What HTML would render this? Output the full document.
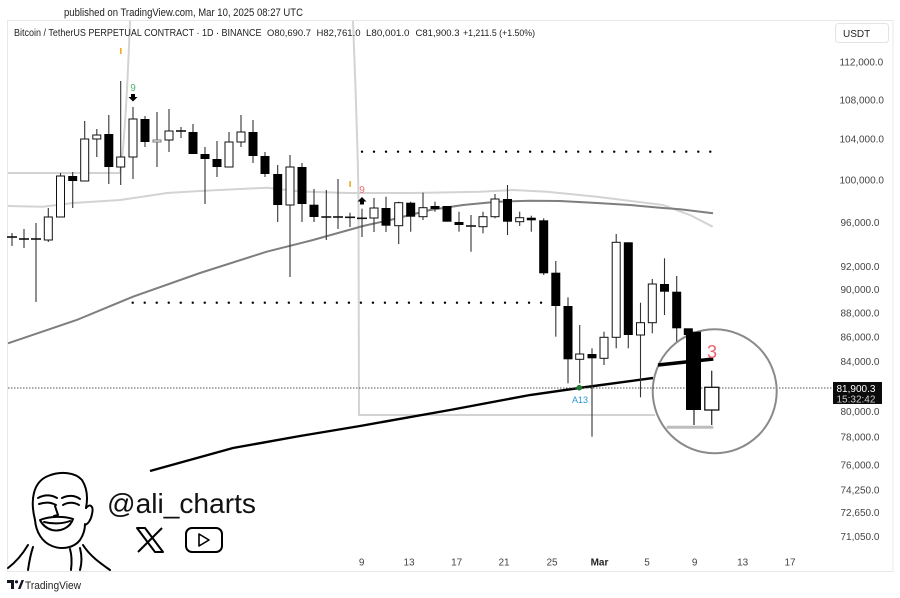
<!DOCTYPE html>
<html><head><meta charset="utf-8"><style>
html,body{margin:0;padding:0;background:#fff;}
svg{display:block;font-family:"Liberation Sans",sans-serif;}
</style></head><body>
<svg width="900" height="598" viewBox="0 0 900 598" xmlns="http://www.w3.org/2000/svg">
<rect width="900" height="598" fill="#fff"/>
<text x="64" y="16" font-size="11" fill="#222" textLength="239" lengthAdjust="spacingAndGlyphs">published on TradingView.com, Mar 10, 2025 08:27 UTC</text>
<rect x="7.5" y="20.5" width="885.5" height="551" fill="none" stroke="#e8e8e8" stroke-width="1"/>

<!-- light gray step line -->
<path d="M8,173 L120,173 C124,150 127,100 130,21" fill="none" stroke="#d3d3d3" stroke-width="2"/>
<path d="M353,21 C356,100 358,150 358.5,200 L359,415 L655,415" fill="none" stroke="#d3d3d3" stroke-width="2"/>
<!-- light gray MA -->
<path d="M8,206 L43,206.7 L73,203 L120,200 L167,193 L200,191 L267,187.7 L300,191.5 L347,193 L413,193 L480,191.7 L513,190 L547,191.7 L597,196.7 L663,205 L690,215 L712.7,226.7" fill="none" stroke="#d3d3d3" stroke-width="2"/>
<!-- dark gray MA -->
<path d="M8,343.3 L76.7,320 L133,296.7 L200,273 L266.7,251.7 L300,243.3 L313,240 L363,226 L390,220 L430,210 L463,205 L497,201.7 L530,200.7 L560,201 L597,203 L630,205 L663,208 L680,209.3 L713,213.3" fill="none" stroke="#7e7e7e" stroke-width="2"/>
<!-- black MA -->
<path d="M150,471 L233,448 L300,436 L360,426 L450,410 L530,395 L579,388 L653,378" fill="none" stroke="#000" stroke-width="2.4"/>

<!-- dotted levels -->
<line x1="362" y1="151.7" x2="714" y2="151.7" stroke="#000" stroke-width="2.4" stroke-linecap="round" stroke-dasharray="0.01 12"/>
<line x1="132.7" y1="302.7" x2="545" y2="302.7" stroke="#000" stroke-width="2.4" stroke-linecap="round" stroke-dasharray="0.01 12"/>
<!-- price line -->
<line x1="8" y1="388" x2="833" y2="388" stroke="#555" stroke-width="1" stroke-dasharray="1.5 1.5"/>

<!-- wicks -->
<g stroke="#333" stroke-width="1.1">
<line x1="12" y1="233" x2="12" y2="246"/><line x1="24" y1="229" x2="24" y2="248"/><line x1="36" y1="223" x2="36" y2="302"/>
<line x1="48.3" y1="208" x2="48.3" y2="242"/><line x1="60.5" y1="173" x2="60.5" y2="217"/><line x1="72.7" y1="172" x2="72.7" y2="208"/>
<line x1="84.7" y1="121" x2="84.7" y2="181"/><line x1="96.8" y1="129" x2="96.8" y2="157"/><line x1="108.8" y1="115" x2="108.8" y2="184"/>
<line x1="120.7" y1="81" x2="120.7" y2="185"/><line x1="133" y1="107" x2="133" y2="179"/><line x1="145" y1="116" x2="145" y2="147"/>
<line x1="157" y1="112" x2="157" y2="167"/><line x1="169" y1="109" x2="169" y2="152"/><line x1="181" y1="127" x2="181" y2="138"/>
<line x1="193" y1="124" x2="193" y2="154"/><line x1="205" y1="147" x2="205" y2="204"/><line x1="217" y1="141" x2="217" y2="177"/>
<line x1="229" y1="132" x2="229" y2="167"/><line x1="241" y1="115" x2="241" y2="147"/><line x1="253" y1="120" x2="253" y2="163"/>
<line x1="265" y1="152" x2="265" y2="177"/><line x1="277.7" y1="165" x2="277.7" y2="222"/><line x1="290" y1="155" x2="290" y2="277"/>
<line x1="302" y1="163" x2="302" y2="222"/><line x1="314" y1="189" x2="314" y2="222"/><line x1="326.3" y1="190" x2="326.3" y2="240"/>
<line x1="338" y1="179" x2="338" y2="229"/><line x1="350" y1="212.7" x2="350" y2="227"/><line x1="362" y1="208.7" x2="362" y2="237"/>
<line x1="374" y1="198" x2="374" y2="232"/><line x1="386" y1="196.7" x2="386" y2="232"/><line x1="398.7" y1="201.7" x2="398.7" y2="244"/>
<line x1="410.7" y1="201.7" x2="410.7" y2="231.7"/><line x1="423" y1="192.7" x2="423" y2="220"/><line x1="435" y1="201.7" x2="435" y2="211.7"/>
<line x1="447" y1="206" x2="447" y2="221.7"/><line x1="459" y1="211.7" x2="459" y2="231.7"/><line x1="471" y1="215" x2="471" y2="251.7"/>
<line x1="483" y1="211.7" x2="483" y2="233.3"/><line x1="495" y1="194" x2="495" y2="218.3"/><line x1="507.5" y1="185" x2="507.5" y2="235"/>
<line x1="519.7" y1="211.7" x2="519.7" y2="226"/><line x1="531.3" y1="215.7" x2="531.3" y2="231.7"/><line x1="543.7" y1="218.3" x2="543.7" y2="275"/>
<line x1="555.8" y1="261" x2="555.8" y2="336.7"/><line x1="568" y1="297.3" x2="568" y2="383.3"/><line x1="579.7" y1="325" x2="579.7" y2="383.3"/>
<line x1="592" y1="348.3" x2="592" y2="436.7"/><line x1="604" y1="331.7" x2="604" y2="365"/><line x1="616.2" y1="234" x2="616.2" y2="348.3"/>
<line x1="628.3" y1="242.3" x2="628.3" y2="348.3"/><line x1="640.5" y1="302.7" x2="640.5" y2="397.3"/><line x1="652.3" y1="279" x2="652.3" y2="333.3"/>
<line x1="664.5" y1="258.3" x2="664.5" y2="315"/><line x1="676.7" y1="276" x2="676.7" y2="343"/>
</g>
<!-- crosses -->
<g stroke="#111" stroke-width="1.6">
<line x1="7" y1="237" x2="17" y2="237"/><line x1="19" y1="239" x2="29" y2="239"/><line x1="31" y1="239" x2="41" y2="239"/>
<line x1="176" y1="131" x2="186" y2="131"/><line x1="321.3" y1="217" x2="331.3" y2="217"/><line x1="333" y1="217" x2="343" y2="217"/>
<line x1="345" y1="217.3" x2="355" y2="217.3"/><line x1="357" y1="218.3" x2="367" y2="218.3"/><line x1="466" y1="226" x2="476" y2="226"/>
</g>
<!-- black bodies -->
<g fill="#000">
<rect x="68.2" y="176" width="9" height="5"/><rect x="104.3" y="134" width="9" height="33"/><rect x="140.5" y="119" width="9" height="23"/>
<rect x="188.5" y="132" width="9" height="22"/><rect x="200.5" y="154" width="9" height="5"/><rect x="212.5" y="159" width="9" height="8"/>
<rect x="248.5" y="132" width="9" height="24"/><rect x="260.5" y="156" width="9" height="18"/><rect x="273.2" y="174" width="9" height="31"/>
<rect x="297.5" y="167" width="9" height="37"/><rect x="309.5" y="204.7" width="9" height="12.3"/><rect x="381.5" y="208" width="9" height="17.7"/>
<rect x="406.2" y="202.7" width="9" height="14"/><rect x="430.5" y="206" width="9" height="3"/><rect x="442.5" y="206" width="9" height="15.7"/>
<rect x="454.5" y="222" width="9" height="3"/><rect x="503" y="199" width="9" height="22.7"/><rect x="526.8" y="217.7" width="9" height="2.6"/>
<rect x="539.2" y="220.3" width="9" height="53"/><rect x="551.3" y="272.7" width="9" height="33.3"/><rect x="563.5" y="306" width="9" height="53.3"/>
<rect x="587.5" y="354" width="9" height="4.3"/><rect x="623.8" y="242.3" width="9" height="92.7"/><rect x="660" y="284" width="9" height="7.7"/>
<rect x="672.2" y="291.7" width="9" height="36.6"/>
</g>
<!-- white bodies -->
<g fill="#fff" stroke="#111" stroke-width="1">
<rect x="44.3" y="217" width="8" height="23"/><rect x="56.5" y="176" width="8" height="41"/><rect x="80.7" y="139" width="8" height="42"/>
<rect x="92.8" y="135" width="8" height="4"/><rect x="116.7" y="157" width="8" height="10"/><rect x="129" y="119" width="8" height="38"/>
<rect x="153" y="140" width="8" height="2" stroke="#777"/><rect x="165" y="131" width="8" height="9"/><rect x="225" y="142" width="8" height="25"/>
<rect x="237" y="132" width="8" height="10"/><rect x="286" y="167" width="8" height="38"/><rect x="370" y="208" width="8" height="10"/>
<rect x="394.7" y="202.7" width="8" height="23"/><rect x="419" y="207.7" width="8" height="9"/><rect x="479" y="216.7" width="8" height="10"/>
<rect x="491" y="199" width="8" height="17.7"/><rect x="515.7" y="217.7" width="8" height="4"/><rect x="575.7" y="354" width="8" height="5.3"/>
<rect x="600" y="337.3" width="8" height="21"/><rect x="612.2" y="242.3" width="8" height="95"/><rect x="636.5" y="322.7" width="8" height="12.3"/>
<rect x="648.3" y="284" width="8" height="38.7"/>
</g>

<!-- markers -->
<rect x="120" y="48" width="1.6" height="6" fill="#f5a623"/>
<rect x="349.3" y="181" width="1.6" height="6" fill="#f5a623"/>
<text x="133" y="91" font-size="10" fill="#4fb46a" text-anchor="middle">9</text>
<path d="M131,94 h4 v3 h2.5 l-4.5,4.5 l-4.5,-4.5 h2.5 z" fill="#000"/>
<text x="362" y="193" font-size="10" fill="#f06e6e" text-anchor="middle">9</text>
<path d="M360,204.5 h4 v-3 h2.5 l-4.5,-4.5 l-4.5,4.5 h2.5 z" fill="#000"/>
<circle cx="579.3" cy="387.7" r="2.8" fill="#1e7d32"/>
<text x="580" y="403" font-size="9" fill="#2a96d4" text-anchor="middle">A13</text>

<!-- magnifier circle -->
<circle cx="714.7" cy="391.3" r="62" fill="#fff" stroke="#8a8a8a" stroke-width="2"/>
<line x1="653" y1="388" x2="776" y2="388" stroke="#555" stroke-width="1" stroke-dasharray="1.5 1.5"/>
<line x1="666.7" y1="427.3" x2="713.3" y2="427.3" stroke="#bdbdbd" stroke-width="3"/>
<line x1="658" y1="365" x2="713.3" y2="359" stroke="#000" stroke-width="3.5"/>
<rect x="683.8" y="328.3" width="9" height="6.7" fill="#000"/>
<line x1="694" y1="405" x2="694" y2="425" stroke="#333" stroke-width="1.3"/>
<rect x="686" y="331.7" width="15" height="78.3" fill="#000"/>
<line x1="711.7" y1="370.7" x2="711.7" y2="425" stroke="#333" stroke-width="1.3"/>
<rect x="704.8" y="387.3" width="14" height="22.7" fill="#fff" stroke="#111" stroke-width="1.3"/>
<text x="712" y="358" font-size="18" fill="#f0616b" text-anchor="middle">3</text>

<!-- legend line -->
<text x="14" y="36" font-size="10" fill="#222" textLength="247.5" lengthAdjust="spacingAndGlyphs">Bitcoin / TetherUS PERPETUAL CONTRACT · 1D · BINANCE</text>
<text x="267" y="36" font-size="9.6" fill="#222" textLength="44" lengthAdjust="spacingAndGlyphs">O80,690.7</text>
<text x="316.5" y="36" font-size="9.6" fill="#222" textLength="44" lengthAdjust="spacingAndGlyphs">H82,761.0</text>
<text x="366" y="36" font-size="9.6" fill="#222" textLength="43.5" lengthAdjust="spacingAndGlyphs">L80,001.0</text>
<text x="415.5" y="36" font-size="9.6" fill="#222" textLength="44" lengthAdjust="spacingAndGlyphs">C81,900.3</text>
<text x="463" y="36" font-size="9.6" fill="#222" textLength="72" lengthAdjust="spacingAndGlyphs">+1,211.5 (+1.50%)</text>

<!-- price axis -->
<rect x="835.5" y="23.5" width="53" height="19" rx="3" fill="#fff" stroke="#e3e3e3"/>
<text x="843" y="37" font-size="10" fill="#222">USDT</text>
<g font-size="10" fill="#444">
<text x="839.5" y="65.5">112,000.0</text>
<text x="839.5" y="103.5">108,000.0</text>
<text x="839.5" y="142.5">104,000.0</text>
<text x="839.5" y="183.5">100,000.0</text>
<text x="840.5" y="226">96,000.0</text>
<text x="840.5" y="270">92,000.0</text>
<text x="840.5" y="293">90,000.0</text>
<text x="840.5" y="316.5">88,000.0</text>
<text x="840.5" y="340.5">86,000.0</text>
<text x="840.5" y="365">84,000.0</text>
<text x="840.5" y="415">80,000.0</text>
<text x="840.5" y="440.5">78,000.0</text>
<text x="840.5" y="468.5">76,000.0</text>
<text x="840.5" y="493.5">74,250.0</text>
<text x="840.5" y="516">72,650.0</text>
<text x="840.5" y="540">71,050.0</text>
</g>
<rect x="833" y="382" width="49" height="22" fill="#0b0b0b"/>
<text x="836.5" y="392" font-size="10" fill="#fff">81,900.3</text>
<text x="836.5" y="402.5" font-size="10" fill="#cfcfcf">15:32:42</text>

<!-- date axis -->
<g font-size="10" fill="#444" text-anchor="middle">
<text x="361.7" y="565.5">9</text><text x="409" y="565.5">13</text><text x="456.7" y="565.5">17</text>
<text x="504" y="565.5">21</text><text x="552" y="565.5">25</text>
<text x="599.5" y="565.5" font-weight="bold" fill="#222">Mar</text>
<text x="647" y="565.5">5</text><text x="694.7" y="565.5">9</text><text x="742.7" y="565.5">13</text><text x="790" y="565.5">17</text>
</g>

<!-- watermark face -->
<g fill="none" stroke="#000" stroke-width="2" stroke-linecap="round" stroke-linejoin="round">
<path d="M35,520 C30,500 33,482 48,476 C60,471 75,472 82,480 C87,488 88,498 86,508"/>
<path d="M86,508 C90,503 94,506 92,514 C91,520 88,524 85,525"/>
<path d="M35,520 C36,532 42,542 52,546 C62,550 74,548 80,540 C84,534 85,528 85,524"/>
<path d="M38,498 C45,494 52,495 57,498"/><path d="M62,498 C68,495 75,495 80,499"/>
<path d="M39,504 C45,502 51,502 56,505"/><path d="M63,505 C68,502 74,502 79,505"/>
<path d="M55,506 L58,515 L54,516"/>
<path d="M40,520 C50,516 64,516 73,519 C70,528 60,532 52,530 C45,528 42,524 40,520 Z"/>
<path d="M44,522 C52,524 62,524 70,521"/>
<path d="M28,545 C22,555 16,562 8,568"/>
<path d="M33,547 C30,556 29,563 28,570"/>
<path d="M83,545 C90,556 100,563 110,570"/>
<path d="M80,548 C82,556 82,563 80,570"/>
<path d="M70,549 C72,556 72,562 71,570"/>
</g>
<text x="107" y="513" font-size="28" fill="#111" textLength="149" lengthAdjust="spacingAndGlyphs">@ali_charts</text>
<g fill="none" stroke="#000" stroke-width="2" stroke-linejoin="round">
<path d="M137,528 L145,528 L163,552 L155,552 Z"/>
<path d="M162,528 L138,552"/>
<rect x="186" y="528" width="36" height="24" rx="6"/>
<path d="M199,534 L199,546 L209,540 Z" stroke-width="1.6"/>
</g>

<!-- TradingView footer -->
<g fill="#131722">
<path d="M7,580 h7 v9 h-3 v-6 h-4 z"/>
<circle cx="16.5" cy="581.8" r="1.6"/>
<path d="M18,589 l3.5,-9 h2.5 l-3.5,9 z"/>
</g>
<text x="25" y="589" font-size="11" fill="#222" textLength="56" lengthAdjust="spacingAndGlyphs">TradingView</text>
</svg>
</body></html>
